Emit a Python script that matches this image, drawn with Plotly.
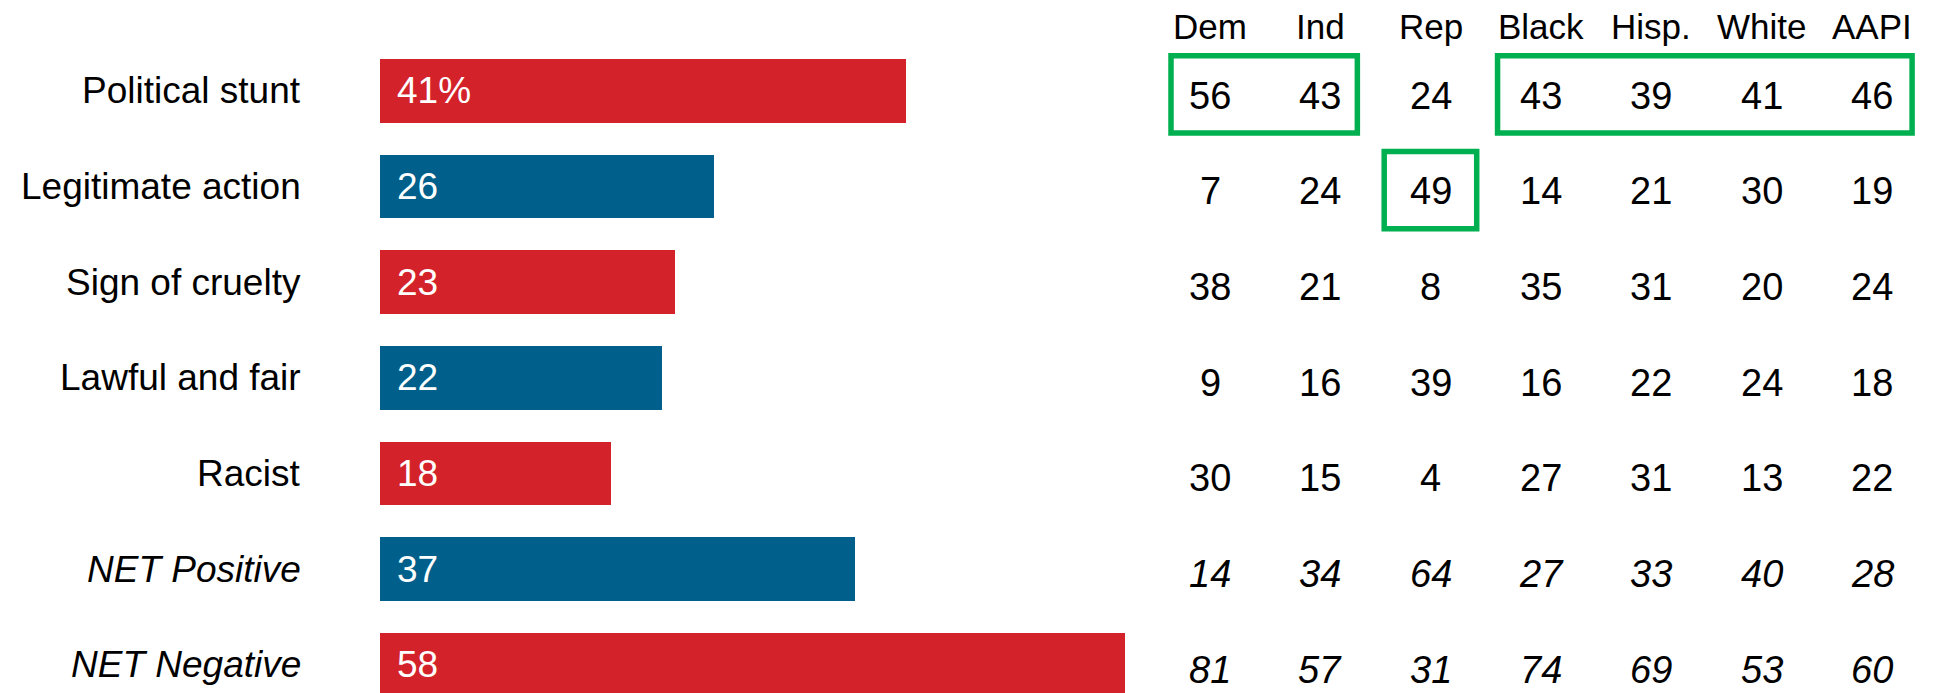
import plotly.graph_objects as go

# ---------------- data ----------------
categories = ["Political stunt", "Legitimate action", "Sign of cruelty",
              "Lawful and fair", "Racist", "NET Positive", "NET Negative"]
overall = [41, 26, 23, 22, 18, 37, 58]
tone = ["neg", "pos", "neg", "pos", "neg", "pos", "neg"]
italic_rows = [False, False, False, False, False, True, True]

groups = ["Dem", "Ind", "Rep", "Black", "Hisp.", "White", "AAPI"]
dem = [56, 7, 38, 9, 30, 14, 81]
ind = [43, 24, 21, 16, 15, 34, 57]
rep = [24, 49, 8, 39, 4, 64, 31]
black = [43, 14, 35, 16, 27, 27, 74]
hisp = [39, 21, 31, 22, 31, 33, 69]
white = [41, 30, 20, 24, 13, 40, 53]
aapi = [46, 19, 24, 18, 22, 28, 60]
table = [dem, ind, rep, black, hisp, white, aapi]

# highlighted cells: (row index, first group, last group)
highlights = [(0, "Dem", "Ind"), (0, "Black", "AAPI"), (1, "Rep", "Rep")]

# ---------------- geometry / style ----------------
OFF = 8                      # page body margin of the html page
W, H = 1934 - OFF, 693 - OFF
ROW0, ROWSTEP = 90.8 - OFF, 95.67
BAR_X0, PX_PER_UNIT = 380.0 - OFF, 12.84
COL0, COLSTEP = 1210.0 - OFF, 110.35
BOX_PAD = [(39, 37), (43.5, 40), (46.5, 46)]   # left/right padding in px per box
BOX_V = (-35.0, 42.3)                           # top/bottom offsets from row centre, px

RED = "#D3222A"
BLUE = "#005F8B"
GREEN = "#00B050"
FONT = "Liberation Sans, Arial, sans-serif"
colors = {"neg": RED, "pos": BLUE}

rows = list(range(len(categories)))
y_range = [(H - ROW0) / ROWSTEP, -ROW0 / ROWSTEP]
x_range = [-BAR_X0 / PX_PER_UNIT, (W - BAR_X0) / PX_PER_UNIT]
x2_range = [-COL0 / COLSTEP, (W - COL0) / COLSTEP]

fig = go.Figure()
fig.add_trace(go.Bar(
    x=overall, y=rows, orientation="h",
    marker=dict(color=[colors[t] for t in tone], line=dict(width=0)),
    width=63.5 / ROWSTEP, hoverinfo="skip", showlegend=False,
    xaxis="x", yaxis="y",
))
# invisible trace to activate categorical x2 axis
fig.add_trace(go.Scatter(x=groups, y=[None] * len(groups), mode="markers",
                         xaxis="x2", yaxis="y", showlegend=False, hoverinfo="skip"))

ann = []
for i, (cat, v, it) in enumerate(zip(categories, overall, italic_rows)):
    txt = f"<i>{cat}</i>" if it else cat
    ann.append(dict(x=0, y=i, xref="x", yref="y", text=txt, showarrow=False,
                    xanchor="right", yanchor="middle", xshift=-77,
                    font=dict(family=FONT, size=37, color="black")))
    label = f"{v}%" if i == 0 else str(v)
    ann.append(dict(x=0, y=i, xref="x", yref="y", text=label, showarrow=False,
                    xanchor="left", yanchor="middle", xshift=15,
                    font=dict(family=FONT, size=37, color="white")))

for g, col in zip(groups, table):
    ann.append(dict(x=g, y=-0.67, xref="x2", yref="y", text=g, showarrow=False,
                    xanchor="center", yanchor="middle",
                    font=dict(family=FONT, size=35, color="black")))
    for i, (v, it) in enumerate(zip(col, italic_rows)):
        txt = f"<i>{v}</i>" if it else str(v)
        ann.append(dict(x=g, y=i, xref="x2", yref="y", text=txt, showarrow=False,
                        xanchor="center", yanchor="middle", yshift=-5,
                        font=dict(family=FONT, size=38, color="black")))

shapes = []
for (r, g0, g1), (pl, pr) in zip(highlights, BOX_PAD):
    i0, i1 = groups.index(g0), groups.index(g1)
    shapes.append(dict(type="rect", xref="x2", yref="y",
                       x0=i0 - pl / COLSTEP, x1=i1 + pr / COLSTEP,
                       y0=r + BOX_V[0] / ROWSTEP, y1=r + BOX_V[1] / ROWSTEP,
                       line=dict(color=GREEN, width=5.5), fillcolor="rgba(0,0,0,0)"))

fig.update_layout(
    width=W, height=H,
    margin=dict(l=0, r=0, t=0, b=0),
    paper_bgcolor="white", plot_bgcolor="white",
    xaxis=dict(domain=[0, 1], range=x_range, visible=False, fixedrange=True),
    xaxis2=dict(domain=[0, 1], range=x2_range, type="category", overlaying="x",
                visible=False, fixedrange=True),
    yaxis=dict(range=y_range, visible=False, fixedrange=True),
    annotations=ann, shapes=shapes, bargap=0,
    showlegend=False,
)

fig.write_html("out.html", config={"displayModeBar": False})
